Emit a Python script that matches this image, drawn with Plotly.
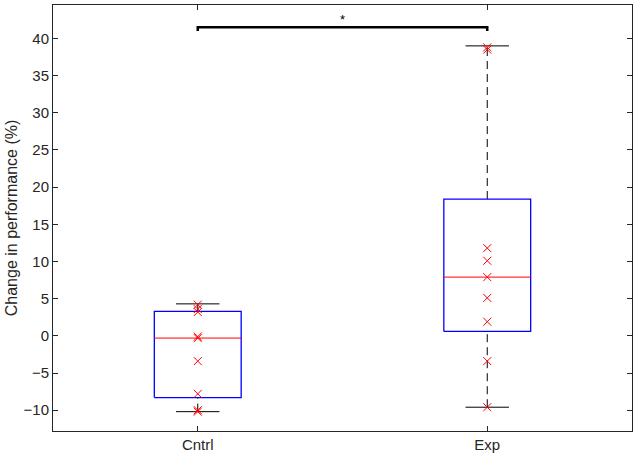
import plotly.graph_objects as go

categories = ["Cntrl", "Exp"]
xpos = [1, 2]
q1 = [-8.3, 0.6]
median = [-0.3, 7.9]
q3 = [3.3, 18.4]
lower_whisker = [-10.2, -9.6]
upper_whisker = [4.3, 39.0]
points = [
    [4.2, 3.6, 3.2, -0.1, -0.3, -3.4, -7.8, -10.0, -10.2],
    [38.8, 38.5, 11.8, 10.1, 7.9, 5.1, 1.9, -3.4, -9.6],
]
sig_y = 41.5
sig_drop = 41.0
sig_label = "*"
yticks = [-10, -5, 0, 5, 10, 15, 20, 25, 30, 35, 40]

box_hw = 0.15
cap_hw = 0.075

fig = go.Figure()
for i, x in enumerate(xpos):
    fig.add_trace(go.Scatter(x=[x, x], y=[q3[i], upper_whisker[i]], mode="lines",
                             line=dict(color="black", width=1, dash="8px,5px"), showlegend=False, hoverinfo="skip"))
    fig.add_trace(go.Scatter(x=[x, x], y=[lower_whisker[i], q1[i]], mode="lines",
                             line=dict(color="black", width=1, dash="8px,5px"), showlegend=False, hoverinfo="skip"))
    for w in (upper_whisker[i], lower_whisker[i]):
        fig.add_trace(go.Scatter(x=[x - cap_hw, x + cap_hw], y=[w, w], mode="lines",
                                 line=dict(color="black", width=1), showlegend=False, hoverinfo="skip"))
    fig.add_trace(go.Scatter(x=[x - box_hw, x + box_hw, x + box_hw, x - box_hw, x - box_hw],
                             y=[q1[i], q1[i], q3[i], q3[i], q1[i]], mode="lines",
                             line=dict(color="#0000ff", width=1.3), showlegend=False, hoverinfo="skip"))
    fig.add_trace(go.Scatter(x=[x - box_hw, x + box_hw], y=[median[i], median[i]], mode="lines",
                             line=dict(color="#ff0000", width=1), showlegend=False, hoverinfo="skip"))
    fig.add_trace(go.Scatter(x=[x] * len(points[i]), y=points[i], mode="markers",
                             marker=dict(symbol="x-thin", size=8, line=dict(color="#ff0000", width=1)),
                             showlegend=False))

fig.add_trace(go.Scatter(x=[xpos[0], xpos[0], xpos[1], xpos[1]], y=[sig_drop, sig_y, sig_y, sig_drop],
                         mode="lines", line=dict(color="black", width=2.5), showlegend=False, hoverinfo="skip"))
fig.add_annotation(x=(xpos[0] + xpos[1]) / 2, y=sig_y, text=sig_label, showarrow=False,
                   yanchor="bottom", yshift=-2, font=dict(size=13, color="black"))

fig.update_layout(
    width=638, height=461,
    margin=dict(l=53, r=6, t=5, b=30),
    paper_bgcolor="white", plot_bgcolor="white",
    font=dict(family="Liberation Sans, Arial, sans-serif", size=15, color="#262626"),
)
fig.update_xaxes(range=[0.5, 2.5], tickvals=xpos, ticktext=categories, showgrid=False, zeroline=False,
                 showline=True, linecolor="#262626", linewidth=1, mirror="ticks", ticks="inside", ticklen=5,
                 tickcolor="#262626")
fig.update_yaxes(range=[-12.8, 44.5], tickvals=yticks, showgrid=False, zeroline=False,
                 showline=True, linecolor="#262626", linewidth=1, mirror="ticks", ticks="inside", ticklen=5,
                 tickcolor="#262626", title=dict(text="Change in performance (%)", font=dict(size=16), standoff=1))

fig.write_html("out.html", config={"displayModeBar": False},
               post_script="document.body.style.margin='0';document.body.style.padding='0';")
